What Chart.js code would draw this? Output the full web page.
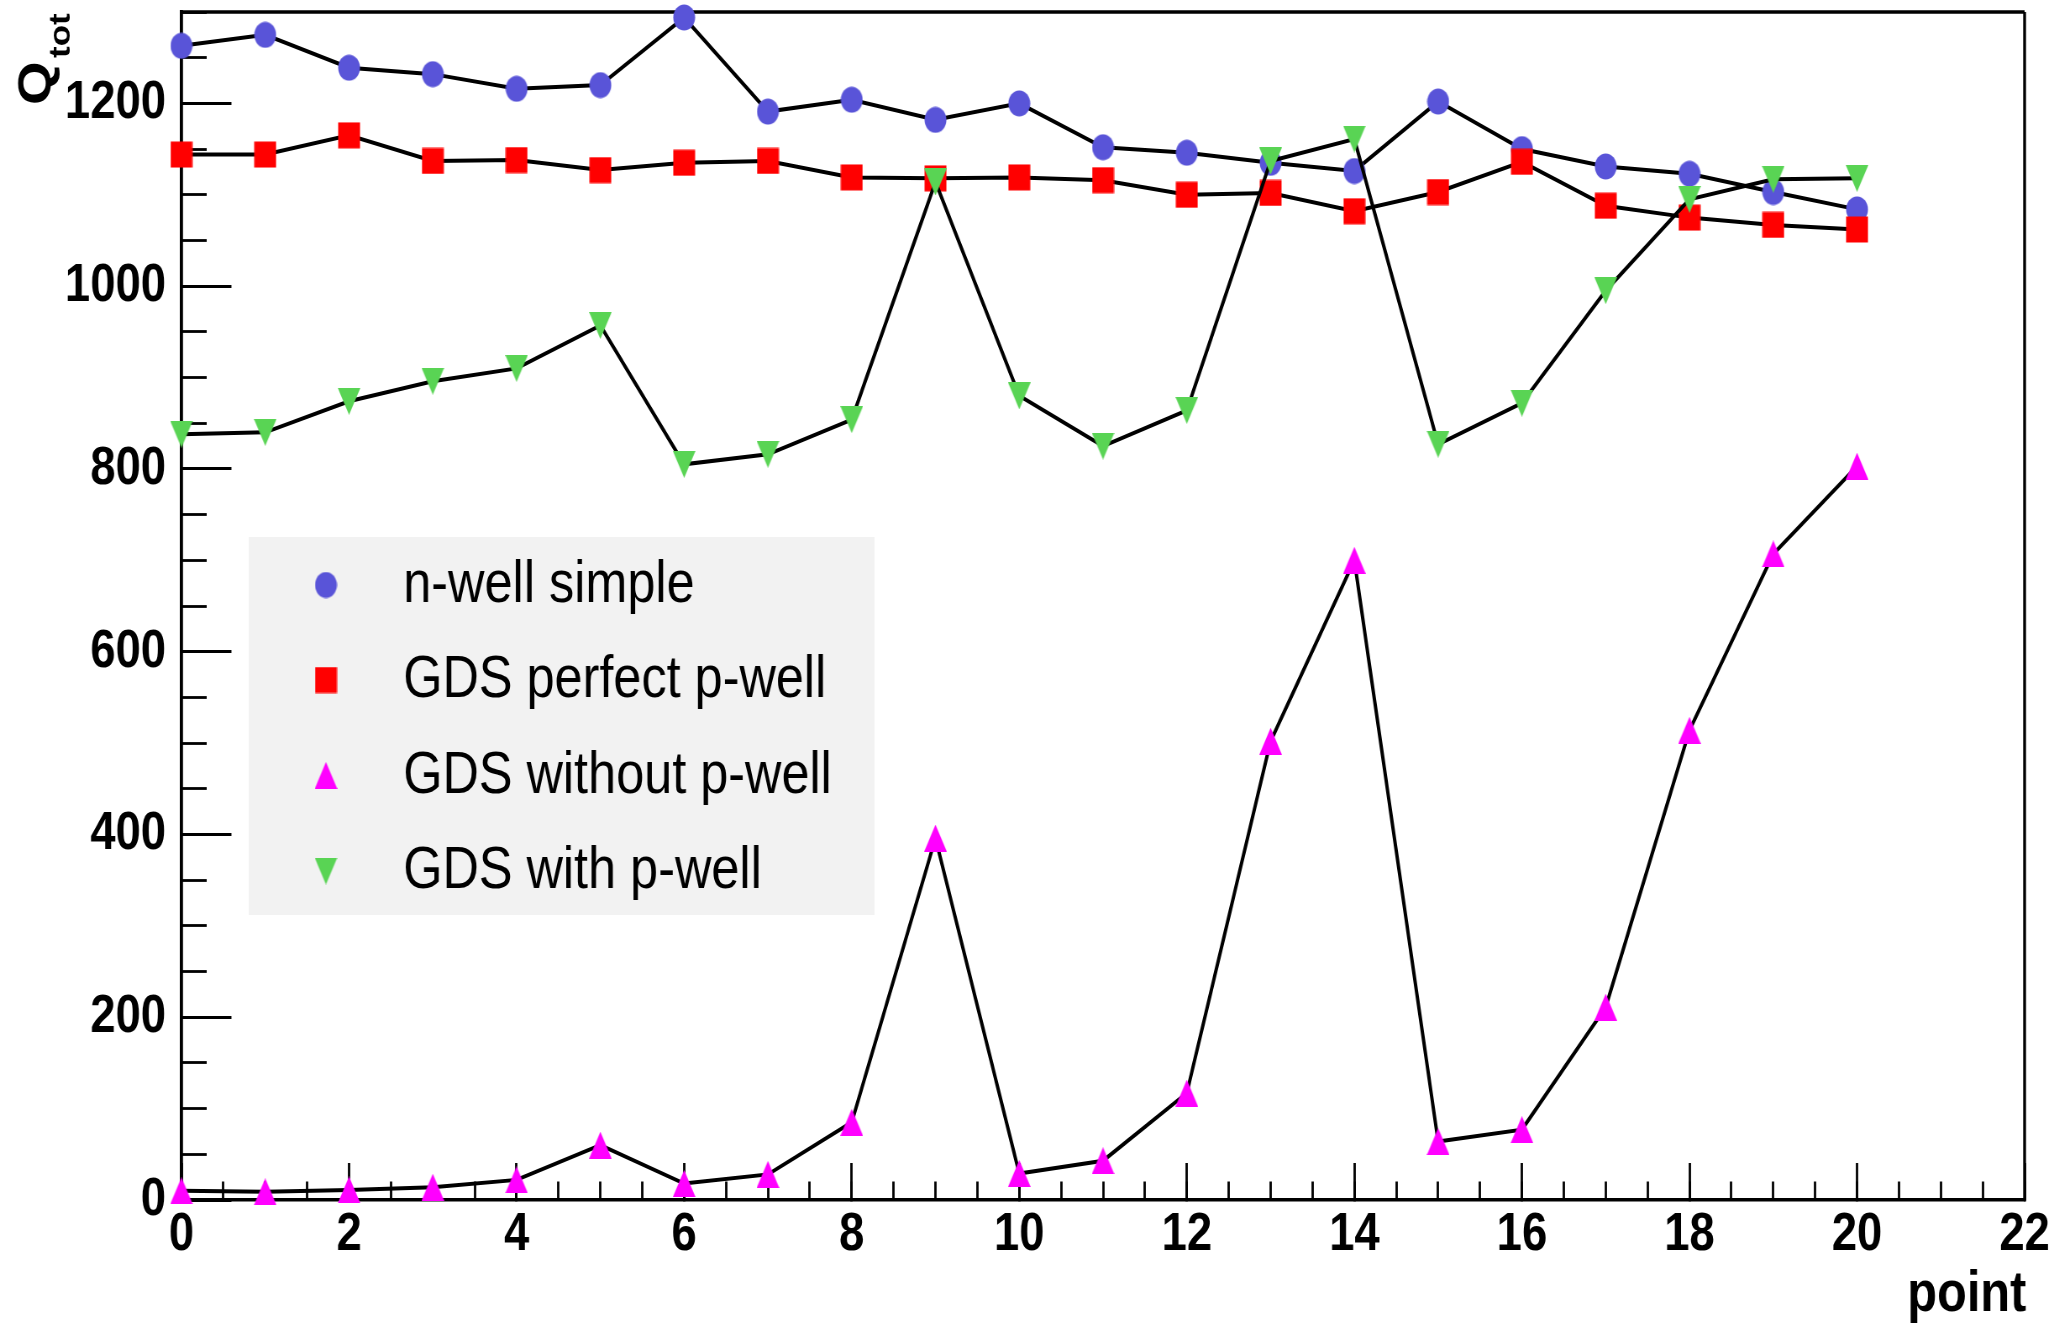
<!DOCTYPE html>
<html><head><meta charset="utf-8">
<script src="https://cdn.jsdelivr.net/npm/chart.js@4.4.1/dist/chart.umd.min.js"></script>
<style>
html,body{margin:0;padding:0;background:#fff;overflow:hidden;}
canvas{display:block;}
</style></head><body>
<canvas id="c" width="2445" height="1327" style="width:2054px;height:1327px"></canvas>
<script>
// ---------------- data ----------------
const points = [0,1,2,3,4,5,6,7,8,9,10,11,12,13,14,15,16,17,18,19,20];
const nwellSimple   = [1263,1275,1239,1232,1216,1220,1294,1191,1204,1182,1200,1152,1146,1135,1126,1202,1150,1131,1123,1103,1084];
const gdsPerfect    = [1144,1144,1165,1137,1138,1127,1135,1137,1119,1118,1119,1116,1100,1102,1082,1103,1136,1088,1075,1067,1062];
const gdsWithout    = [10,9,11,14,22,60,18,28,85,396,29,43,117,502,700,64,77,211,514,707,803];
const gdsWith       = [838,840,874,896,910,957,805,816,854,1114,880,825,864,1137,1161,827,872,995,1095,1117,1118];
const seriesLabels  = ['n-well simple','GDS perfect p-well','GDS without p-well','GDS with p-well'];
const seriesColors  = ['#5954d8','#ff0000','#ff00ff','#59d454'];
const xMajorTicks   = [0,2,4,6,8,10,12,14,16,18,20,22];
const xTickLabels   = ['0','2','4','6','8','10','12','14','16','18','20','22'];
const yMajorTicks   = [0,200,400,600,800,1000,1200];
const yTickLabels   = ['0','200','400','600','800','1000','1200'];
const xTitle = 'point';
const yTitleMain = 'Q';
const yTitleSub = 'tot';

// ---------------- markers ----------------
function makeMarker(shape, color) {
  const w = 27, h = 27;
  const c = document.createElement('canvas');
  c.width = w; c.height = h;
  const g = c.getContext('2d');
  g.fillStyle = color;
  g.beginPath();
  if (shape === 'circle') { g.arc(w/2, h/2, 13, 0, Math.PI*2); }
  else if (shape === 'rect') { g.rect(0.5, 0.5, 26, 26); }
  else if (shape === 'up') { g.moveTo(w/2, 0); g.lineTo(w, h); g.lineTo(0, h); g.closePath(); }
  else { g.moveTo(0, 0); g.lineTo(w, 0); g.lineTo(w/2, h); g.closePath(); }
  g.fill();
  return c;
}
const markers = [
  makeMarker('circle', seriesColors[0]),
  makeMarker('rect', seriesColors[1]),
  makeMarker('up', seriesColors[2]),
  makeMarker('down', seriesColors[3])
];

const seriesValues = [nwellSimple, gdsPerfect, gdsWithout, gdsWith];
const datasets = seriesValues.map((vals, i) => ({
  label: seriesLabels[i],
  data: points.map((p, j) => ({x: p, y: vals[j]})),
  borderColor: '#000000',
  borderWidth: 4,
  backgroundColor: seriesColors[i],
  pointStyle: markers[i],
  pointRadius: 13,
  pointHoverRadius: 13,
  tension: 0,
  clip: false,
  order: 4 - i
}));

// ---------------- helpers ----------------
const FONT = '"Liberation Sans", Arial, Helvetica, sans-serif';
function zeroPad(s) { s.paddingLeft = 0; s.paddingRight = 0; s.paddingTop = 0; s.paddingBottom = 0; }

const framePlugin = {
  id: 'frame',
  beforeDatasetsDraw(chart) {
    const {ctx, chartArea: a} = chart;
    ctx.save();
    ctx.strokeStyle = '#000';
    ctx.lineWidth = 3.4;
    ctx.beginPath();
    ctx.moveTo(a.left, a.top); ctx.lineTo(a.right, a.top);
    ctx.moveTo(a.right, a.top); ctx.lineTo(a.right, a.bottom);
    ctx.stroke();
    ctx.restore();
  }
};

const legendPlugin = {
  id: 'boxLegend',
  beforeDatasetsDraw(chart) {
    const ctx = chart.ctx;
    const box = {x: 296, y: 537, w: 745, h: 378};
    ctx.save();
    ctx.fillStyle = '#f2f2f2';
    ctx.fillRect(box.x, box.y, box.w, box.h);
    const baselines = [602, 697, 792.5, 888];
    chart.data.datasets.forEach((ds, i) => {
      const m = ds.pointStyle;
      const cy = baselines[i] - 17;
      ctx.drawImage(m, 388 - m.width/2, cy - m.height/2);
      ctx.fillStyle = '#000';
      ctx.font = '60px ' + FONT;
      ctx.textAlign = 'left';
      ctx.textBaseline = 'alphabetic';
      ctx.fillText(ds.label, 480, baselines[i]);
    });
    ctx.restore();
  }
};

const titlePlugin = {
  id: 'axisTitles',
  afterDraw(chart) {
    const ctx = chart.ctx;
    ctx.save();
    ctx.fillStyle = '#000';
    ctx.textBaseline = 'alphabetic';
    ctx.font = 'bold 58px ' + FONT;
    ctx.textAlign = 'right';
    ctx.fillText(xTitle, 2412, 1311);
    ctx.translate(59.5, 105);
    ctx.rotate(-Math.PI / 2);
    ctx.textAlign = 'left';
    ctx.font = 'bold 56px ' + FONT;
    ctx.fillText(yTitleMain, 0, 0);
    ctx.font = 'bold 35px ' + FONT;
    ctx.fillText(yTitleSub, 47, 23.5);
    ctx.restore();
  }
};

const tickFont = {family: FONT, size: 54, weight: 'bold', lineHeight: 1};

new Chart(document.getElementById('c'), {
  type: 'line',
  data: {datasets},
  options: {
    responsive: false,
    devicePixelRatio: 1,
    animation: false,
    events: [],
    layout: {padding: {top: 12, right: 35, bottom: 0, left: 0}, autoPadding: false},
    plugins: {legend: {display: false}, tooltip: {enabled: false}, title: {display: false}},
    scales: {
      x: {
        type: 'linear', position: 'bottom', min: 0, max: 22, weight: 1,
        afterBuildTicks: s => { s.ticks = xMajorTicks.map(v => ({value: v})); },
        afterFit: s => { s.height = 127; zeroPad(s); },
        ticks: {font: tickFont, color: '#000', padding: 45, maxRotation: 0, minRotation: 0, autoSkip: false,
                callback: (v, i) => xTickLabels[i]},
        grid: {drawOnChartArea: false, drawTicks: true, tickLength: -37, tickWidth: 2.8, tickColor: '#000'},
        border: {display: true, color: '#000', width: 3.4}
      },
      xMinor: {
        type: 'linear', axis: 'x', position: 'bottom', min: 0, max: 22, weight: 0,
        afterBuildTicks: s => { const t = []; for (let v = 0; v <= 22; v += 0.5) t.push({value: v}); s.ticks = t; },
        afterFit: s => { s.height = 0; zeroPad(s); },
        ticks: {display: false},
        grid: {drawOnChartArea: false, drawTicks: true, tickLength: -18.5, tickWidth: 2.8, tickColor: '#000'},
        border: {display: false}
      },
      y: {
        type: 'linear', position: 'left', min: 0, max: 1300, weight: 1,
        afterBuildTicks: s => { s.ticks = yMajorTicks.map(v => ({value: v})); },
        afterFit: s => { s.width = 216; zeroPad(s); },
        ticks: {font: tickFont, color: '#000', padding: 78, callback: (v, i) => yTickLabels[i]},
        grid: {drawOnChartArea: false, drawTicks: true, tickLength: -59.5, tickWidth: 2.8, tickColor: '#000'},
        border: {display: true, color: '#000', width: 3.8}
      },
      yMinor: {
        type: 'linear', axis: 'y', position: 'left', min: 0, max: 1300, weight: 0,
        afterBuildTicks: s => { const t = []; for (let v = 0; v <= 1300; v += 50) t.push({value: v}); s.ticks = t; },
        afterFit: s => { s.width = 0; zeroPad(s); },
        ticks: {display: false},
        grid: {drawOnChartArea: false, drawTicks: true, tickLength: -30, tickWidth: 2.8, tickColor: '#000'},
        border: {display: false}
      }
    }
  },
  plugins: [framePlugin, legendPlugin, titlePlugin]
});
</script>
</body></html>
